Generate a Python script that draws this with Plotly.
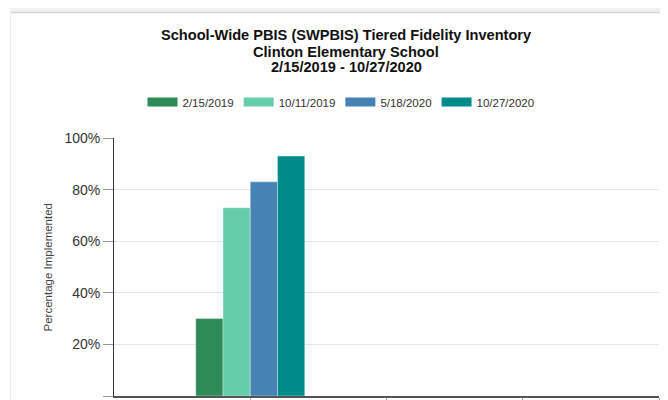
import plotly.graph_objects as go

# ---- data ----
dates = ["2/15/2019", "10/11/2019", "5/18/2020", "10/27/2020"]
values = [30, 73, 83, 93]          # percentage implemented
colors = ["#2e8b57", "#66cdaa", "#4682b4", "#008b8b"]
group_pos = [1]                    # position of the single bar group on the x axis
x_ticks = [1, 2, 3, 4]
y_ticks = [0, 20, 40, 60, 80, 100]
y_tick_labels = [f"{v}%" for v in y_ticks]
title_lines = ["School-Wide PBIS (SWPBIS) Tiered Fidelity Inventory",
               "Clinton Elementary School",
               "2/15/2019 - 10/27/2020"]
y_title = "Percentage Implemented"

FONT = "Liberation Sans, Arial, sans-serif"

# page is rendered with an 8px body margin, so figure is 8px smaller
OFF = 8
PW, PH = 668, 400                       # page size
W, H = PW - OFF, PH - OFF               # figure size
PX0, PX1, PY0, PY1 = 114, 659, 138, 396  # plot area in page pixels
L, R, T, B = PX0 - OFF, PW - PX1, PY0 - OFF, PH - PY1
pw, ph = PX1 - PX0, PY1 - PY0


def px(x):  # page x -> paper x
    return (x - PX0) / pw


def py(y):  # page y -> paper y
    return (PY1 - y) / ph


fig = go.Figure()
for d, v, c in zip(dates, values, colors):
    fig.add_trace(go.Bar(
        x=group_pos, y=[v], name=d, legendgroup=d, showlegend=False,
        marker=dict(color=c, line=dict(color="rgba(255,255,255,0.35)", width=1)),
    ))
# legend swatches (rectangular, like the reference)
for d, c in zip(dates, colors):
    fig.add_trace(go.Scatter(
        x=[None], y=[None], mode="lines", name=d, legendgroup=d,
        line=dict(color=c, width=9), hoverinfo="skip",
    ))

title_y = [35, 51.5, 67]
annotations = [
    dict(text=f"<b>{t}</b>", x=px(346), y=py(yy), xref="paper", yref="paper",
         xanchor="center", yanchor="middle", showarrow=False,
         font=dict(size=14.6, color="#111111", family=FONT))
    for t, yy in zip(title_lines, title_y)
]
annotations.append(dict(
    text=y_title, x=px(47), y=py(267.5), xref="paper", yref="paper",
    xanchor="center", yanchor="middle", showarrow=False, textangle=-90,
    font=dict(size=11.5, color="#444444", family=FONT)))

fig.update_layout(
    width=W, height=H,
    margin=dict(l=L, r=R, t=T, b=B, autoexpand=False),
    paper_bgcolor="white", plot_bgcolor="white",
    barmode="group", bargap=0.2, bargroupgap=0,
    font=dict(family=FONT, color="#333333"),
    showlegend=True,
    legend=dict(
        orientation="h", x=px(341), xanchor="center",
        y=py(102), yanchor="middle",
        font=dict(size=11.5, color="#333333", family=FONT),
        itemwidth=30, tracegroupgap=0,
    ),
    annotations=annotations,
    xaxis=dict(
        range=[0, 4], tickvals=x_ticks, showticklabels=False,
        ticks="outside", ticklen=8, tickcolor="#aaaaaa", tickwidth=1,
        showgrid=False, zeroline=False,
        showline=True, linecolor="#555555", linewidth=2,
    ),
    yaxis=dict(
        range=[0, 100], tickvals=y_ticks, ticktext=y_tick_labels,
        ticks="outside", ticklen=10, tickcolor="#999999",
        tickfont=dict(size=14, color="#333333", family=FONT),
        showgrid=True, gridcolor="#e6e6e6", gridwidth=1,
        zeroline=False, showline=True, linecolor="#333333", linewidth=1,
    ),
    shapes=[
        dict(type="rect", xref="paper", yref="paper",
             x0=px(10), x1=px(PW), y0=py(12), y1=py(OFF),
             fillcolor="#f2f2f2", line=dict(width=0), layer="below"),
        dict(type="line", xref="paper", yref="paper",
             x0=px(10), x1=px(PW), y0=py(12.5), y1=py(12.5),
             line=dict(color="#d6d6d6", width=1.5)),
        dict(type="line", xref="paper", yref="paper",
             x0=px(10.5), x1=px(10.5), y0=py(12), y1=py(PH),
             line=dict(color="#eeeeee", width=1)),
    ],
)

fig.write_html("out.html")
